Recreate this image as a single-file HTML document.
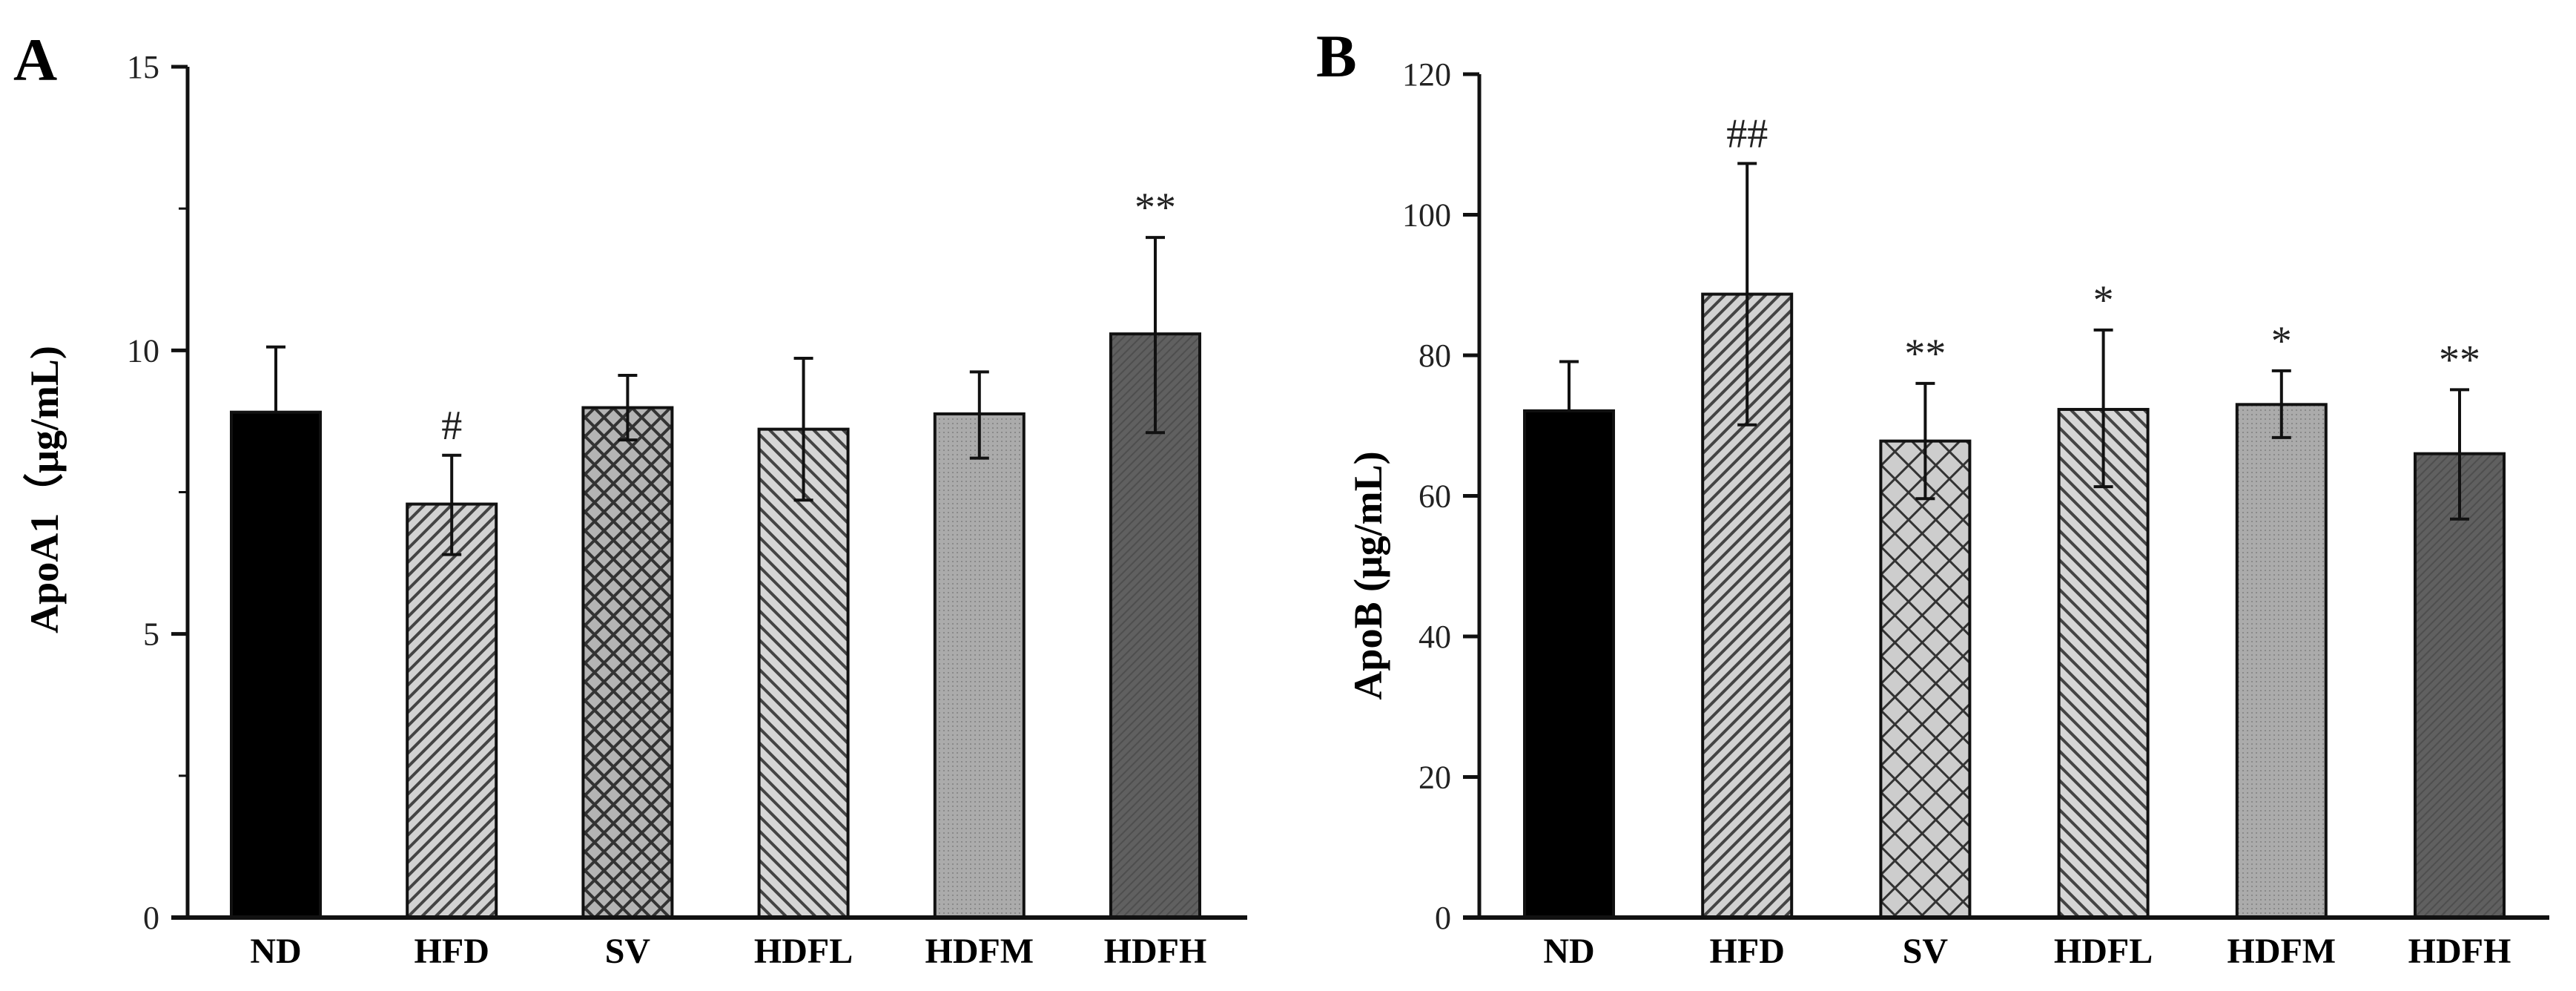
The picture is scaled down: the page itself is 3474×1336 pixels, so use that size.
<!DOCTYPE html>
<html><head><meta charset="utf-8"><style>
html,body{margin:0;padding:0;background:#fff;}
svg{display:block;}
text{font-family:"Liberation Serif",serif;}
</style></head><body>
<svg id="chart" width="3474" height="1336" viewBox="0 0 3474 1336" xmlns="http://www.w3.org/2000/svg">
<defs>
<pattern id="pHFD" patternUnits="userSpaceOnUse" width="13" height="13" patternTransform="rotate(45)">
<rect width="13" height="13" fill="#d2d2d2"/><rect width="4" height="13" fill="#444"/></pattern>
<pattern id="pHDFL" patternUnits="userSpaceOnUse" width="14" height="14" patternTransform="rotate(-45)">
<rect width="14" height="14" fill="#d6d6d6"/><rect width="4" height="14" fill="#444"/></pattern>
<pattern id="pSVa" patternUnits="userSpaceOnUse" width="18" height="18" patternTransform="rotate(45)">
<rect width="18" height="18" fill="#b4b4b4"/><rect width="4" height="18" fill="#333"/><rect width="18" height="4" fill="#333"/></pattern>
<pattern id="pSVb" patternUnits="userSpaceOnUse" width="26" height="26" patternTransform="rotate(45)">
<rect width="26" height="26" fill="#cdcdcd"/><rect width="3" height="26" fill="#333"/><rect width="26" height="3" fill="#333"/></pattern>
<pattern id="pHDFM" patternUnits="userSpaceOnUse" width="6" height="6">
<rect width="6" height="6" fill="#ababab"/><rect width="2" height="2" fill="#8a8a8a"/></pattern>
<pattern id="pHDFH" patternUnits="userSpaceOnUse" width="8" height="8" patternTransform="rotate(45)">
<rect width="8" height="8" fill="#606060"/><rect width="2" height="8" fill="#4e4e4e"/></pattern>
</defs>
<g id="panelA"></g>
<g id="panelB"></g>
</svg>
<script>
const categories = ["ND","HFD","SV","HDFL","HDFM","HDFH"];
const apoA1Values = [8.91, 7.29, 8.99, 8.61, 8.88, 10.29];
const apoA1Upper = [10.06, 8.15, 9.56, 9.86, 9.62, 11.99];
const apoA1Lower = [8.91, 6.40, 8.42, 7.36, 8.10, 8.55];
const apoA1Marks = ["", "#", "", "", "", "**"];
const apoA1Ticks = [0, 5, 10, 15];
const apoBValues = [72.1, 88.7, 67.8, 72.3, 73.0, 66.0];
const apoBUpper = [79.1, 107.3, 76.0, 83.6, 77.8, 75.1];
const apoBLower = [72.1, 70.1, 59.6, 61.3, 68.3, 56.7];
const apoBMarks = ["", "##", "**", "*", "*", "**"];
const apoBTicks = [0, 20, 40, 60, 80, 100, 120];

const NS = "http://www.w3.org/2000/svg";
function mk(parent, tag, attrs, txt){
  const e = document.createElementNS(NS, tag);
  for (const k in attrs) e.setAttribute(k, attrs[k]);
  if (txt !== undefined) e.textContent = txt;
  parent.appendChild(e);
  return e;
}
function drawPanel(g, cfg){
  const y = v => cfg.y0 - (v / cfg.max) * (cfg.y0 - cfg.yTop);
  const x = i => cfg.x0 + i * cfg.step;
  const L = mk(g, "text", {x: cfg.letterX, y: cfg.letterY, "font-size": 82, "font-weight": "bold"}, cfg.letter);
  
  
  for (let i = 0; i < categories.length; i++) {
    const cx = x(i), top = y(cfg.vals[i]);
    const r = mk(g, "rect", {x: cx - 60, y: top, width: 120, height: cfg.y0 - top, fill: cfg.fills[i], stroke: "#111", "stroke-width": 4});
    
    
    const eu = y(cfg.up[i]), el = y(cfg.lo[i]);
    const eb = mk(g, "path", {d: `M${cx} ${eu}V${el}M${cx-13} ${eu}H${cx+13}` + (cfg.lo[i] < cfg.vals[i] ? `M${cx-13} ${el}H${cx+13}` : ""), stroke: "#111", "stroke-width": 4, fill: "none"});
    
    
    if (cfg.marks[i]) {
      const t = mk(g, "text", {x: cx, y: eu - 22, "font-size": 56, "text-anchor": "middle", fill: "#222"}, cfg.marks[i]);
      
      
    }
    const xl = mk(g, "text", {x: cx, y: 1298, "font-size": 48, "font-weight": "bold", "text-anchor": "middle"}, categories[i]);
    
    
  }
  const ya = mk(g, "line", {x1: cfg.ax, y1: cfg.yTop, x2: cfg.ax, y2: cfg.y0, stroke: "#111", "stroke-width": 5});
  
  
  const xa = mk(g, "line", {x1: cfg.ax - 22, y1: cfg.y0, x2: cfg.xEnd, y2: cfg.y0, stroke: "#111", "stroke-width": 6});
  
  
  cfg.ticks.forEach(v => {
    mk(g, "line", {x1: cfg.ax - 22, y1: y(v), x2: cfg.ax, y2: y(v), stroke: "#111", "stroke-width": 5});
    const t = mk(g, "text", {x: cfg.ax - 38, y: y(v) + 15, "font-size": 44, "text-anchor": "end", fill: "#222"}, v);
    
    
  });
  (cfg.minor || []).forEach(v => {
    mk(g, "line", {x1: cfg.ax - 12, y1: y(v), x2: cfg.ax, y2: y(v), stroke: "#111", "stroke-width": 3});
  });
  const tt = mk(g, "text", {x: 0, y: 0, "font-size": 54, "font-weight": "bold", "text-anchor": "middle", transform: `translate(${cfg.titleX},${cfg.titleY}) rotate(-90)`}, cfg.title);
  
  
}
drawPanel(document.getElementById("panelA"), {
  letter: "A", letterX: 18, letterY: 108, vals: apoA1Values, up: apoA1Upper, lo: apoA1Lower, marks: apoA1Marks,
  ticks: apoA1Ticks, minor: [2.5, 7.5, 12.5], max: 15, y0: 1237, yTop: 90, ax: 253, x0: 372, step: 237.2, xEnd: 1682,
  fills: ["#000", "url(#pHFD)", "url(#pSVa)", "url(#pHDFL)", "url(#pHDFM)", "url(#pHDFH)"],
  title: "ApoA1（μg/mL)", titleX: 78, titleY: 660
});
drawPanel(document.getElementById("panelB"), {
  letter: "B", letterX: 1775, letterY: 103, vals: apoBValues, up: apoBUpper, lo: apoBLower, marks: apoBMarks,
  ticks: apoBTicks, minor: [], max: 120, y0: 1237, yTop: 100, ax: 1995, x0: 2116, step: 240.2, xEnd: 3438,
  fills: ["#000", "url(#pHFD)", "url(#pSVb)", "url(#pHDFL)", "url(#pHDFM)", "url(#pHDFH)"],
  title: "ApoB (μg/mL)", titleX: 1863, titleY: 776
});
</script>
</body></html>
